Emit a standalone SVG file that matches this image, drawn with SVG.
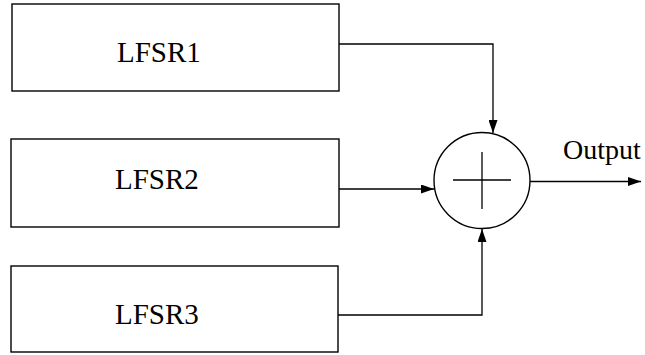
<svg xmlns="http://www.w3.org/2000/svg" width="645" height="355" viewBox="0 0 645 355">
<defs>
<style>
.box{fill:#fff;stroke:#000;stroke-width:1.4}
.lbl{font-family:"Liberation Serif","Times New Roman",serif;font-size:29px;fill:#000}
.ln{fill:none;stroke:#000;stroke-width:1.3}
</style>
<marker id="ah" markerWidth="14" markerHeight="9" refX="13" refY="4.5" orient="auto" markerUnits="userSpaceOnUse">
<path d="M0,0 L13,4.5 L0,9 Z" fill="#000"/>
</marker>
</defs>
<rect width="645" height="355" fill="#fff"/>
<g id="lfsr1">
<rect class="box" x="12" y="4" width="327" height="87"/>
<text class="lbl" x="117" y="62">LFSR1</text>
</g>
<g id="lfsr2">
<rect class="box" x="11" y="139" width="328" height="88"/>
<text class="lbl" x="115" y="189">LFSR2</text>
</g>
<g id="lfsr3">
<rect class="box" x="11" y="266" width="327" height="86"/>
<text class="lbl" x="115" y="324">LFSR3</text>
</g>
<g id="xor">
<circle cx="482" cy="180.5" r="48" fill="#fff" stroke="#000" stroke-width="1.4"/>
<line class="ln" x1="453" y1="180" x2="511" y2="180"/>
<line class="ln" x1="482" y1="152" x2="482" y2="209"/>
</g>
<g id="output">
<text class="lbl" x="563" y="159" style="font-size:28px">Output</text>
</g>
<g id="connectors">
<polyline class="ln" points="339,44 493,44 493,133" marker-end="url(#ah)"/>
<line class="ln" x1="339" y1="189" x2="434" y2="189" marker-end="url(#ah)"/>
<polyline class="ln" points="338,315 482,315 482,229" marker-end="url(#ah)"/>
<line class="ln" x1="530" y1="181.5" x2="641" y2="181.5" marker-end="url(#ah)"/>
</g>
</svg>
